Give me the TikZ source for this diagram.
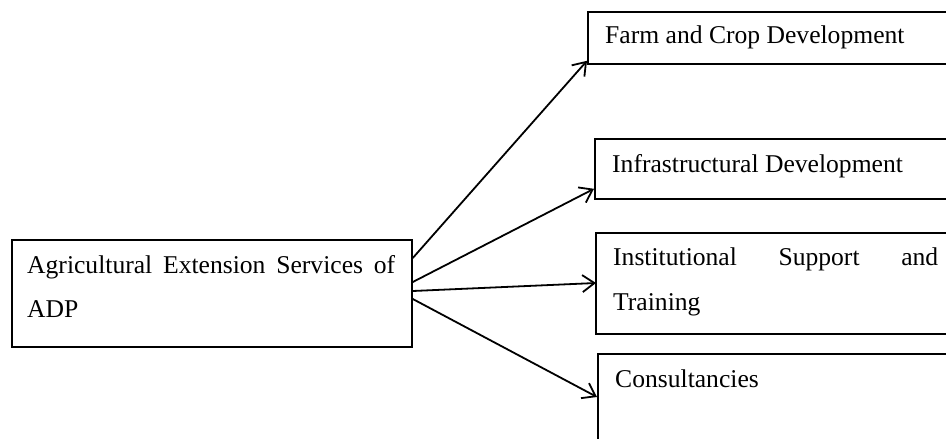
\documentclass[tikz,border=0pt]{standalone}
\usepackage{fontspec}
\setmainfont{Liberation Serif}
\usetikzlibrary{arrows.meta,calc}
\tikzset{
  boxnode/.style={draw, line width=1.8pt, inner sep=0pt, anchor=north west, rectangle},
  txt/.style={anchor=base west, inner sep=0pt, font=\fontsize{25.6}{44}\selectfont},
  link/.style={line width=1.8pt, -{Straight Barb[length=12pt,width=17pt,line width=1.8pt]}}
}
\begin{document}
\begin{tikzpicture}[x=1pt,y=-1pt]
\useasboundingbox (0,0) rectangle (946,439);
\clip (0,0) rectangle (946,439);
\fill[white] (0,0) rectangle (946,439);
% boxes
\node[boxnode, minimum width=400pt, minimum height=107pt] (L) at (11,239) {};
\node[boxnode, minimum width=380pt, minimum height=52pt] (F) at (587,11) {};
\node[boxnode, minimum width=380pt, minimum height=60pt] (I) at (594,138) {};
\node[boxnode, minimum width=380pt, minimum height=101pt] (S) at (595,232) {};
\node[boxnode, minimum width=380pt, minimum height=120pt] (C) at (597,353) {};
% texts
\node[txt] (Lt) at (27,273) {\parbox[t]{368pt}{\fontsize{25.6}{44}\selectfont\makebox[368pt][s]{Agricultural Extension Services of}\\ADP}};
\node[txt] (Ft) at (605,43) {Farm and Crop Development};
\node[txt] (It) at (612,172) {Infrastructural Development};
\node[txt] (St) at (613,265) {\parbox[t]{325pt}{\fontsize{25.6}{45}\selectfont\makebox[325pt][s]{Institutional Support and}\\Training}};
\node[txt] (Ct) at (615,387) {Consultancies};
% connectors
\draw[link] ($(L.north east)+(0,19)$) -- ($(F.south west)+(0,-4)$);
\draw[link] ($(L.north east)+(0,43)$) -- ($(I.south west)+(0,-11)$);
\draw[link] ($(L.north east)+(0,52)$) -- ($(S.north west)+(1,51)$);
\draw[link] ($(L.north east)+(0,60)$) -- ($(C.north west)+(0,44)$);
\end{tikzpicture}
\end{document}
